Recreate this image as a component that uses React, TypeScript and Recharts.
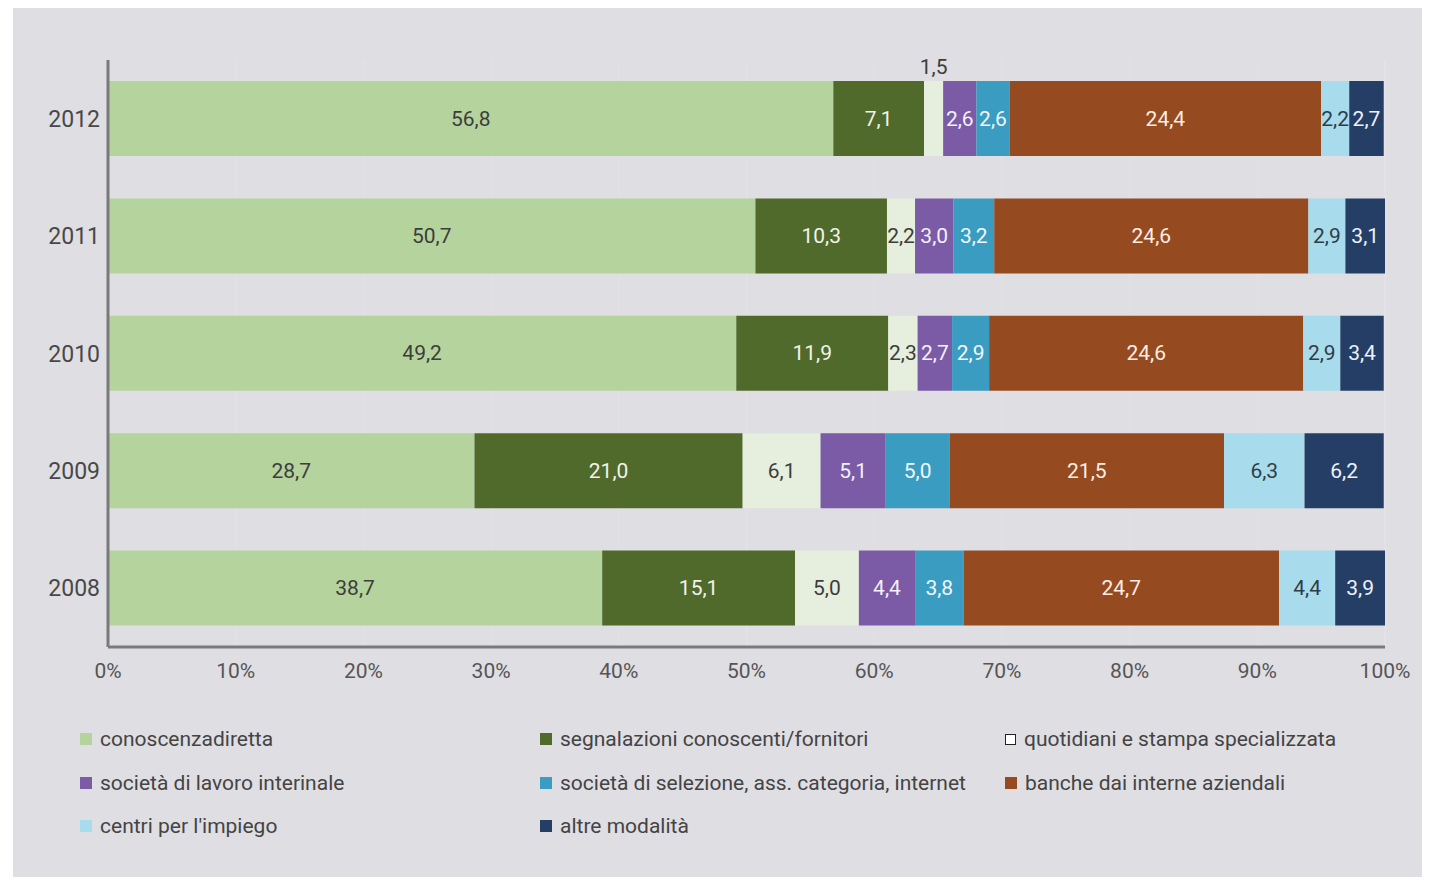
// @ts-nocheck
import React from 'react'
import { BarChart, Bar, XAxis, YAxis, CartesianGrid, LabelList } from 'recharts'

const years = ['2012', '2011', '2010', '2009', '2008']
const conoscenza = [56.8, 50.7, 49.2, 28.7, 38.7]
const segnalazioni = [7.1, 10.3, 11.9, 21.0, 15.1]
const quotidiani = [1.5, 2.2, 2.3, 6.1, 5.0]
const interinale = [2.6, 3.0, 2.7, 5.1, 4.4]
const selezione = [2.6, 3.2, 2.9, 5.0, 3.8]
const banche = [24.4, 24.6, 24.6, 21.5, 24.7]
const centri = [2.2, 2.9, 2.9, 6.3, 4.4]
const altre = [2.7, 3.1, 3.4, 6.2, 3.9]
const xTicks = [0, 10, 20, 30, 40, 50, 60, 70, 80, 90, 100]

const series = [
  { key: 'conoscenza', name: 'conoscenzadiretta', values: conoscenza, color: '#b5d39c', text: '#3d3d3d' },
  { key: 'segnalazioni', name: 'segnalazioni conoscenti/fornitori', values: segnalazioni, color: '#4f6a2a', text: '#f2f2ea' },
  { key: 'quotidiani', name: 'quotidiani e stampa specializzata', values: quotidiani, color: '#e6eedd', text: '#3d3d3d' },
  { key: 'interinale', name: 'società di lavoro interinale', values: interinale, color: '#7b5aa6', text: '#f4f0fa' },
  { key: 'selezione', name: 'società di selezione, ass. categoria, internet', values: selezione, color: '#3a9cc1', text: '#f0f8fc' },
  { key: 'banche', name: 'banche dai interne aziendali', values: banche, color: '#964a1f', text: '#fbeee6' },
  { key: 'centri', name: "centri per l'impiego", values: centri, color: '#a8dcec', text: '#2f3d48' },
  { key: 'altre', name: 'altre modalità', values: altre, color: '#253e66', text: '#eef2f8' },
]

const data = years.map((year, i) => {
  const row: any = { year }
  series.forEach(s => { row[s.key] = s.values[i] })
  return row
})

const font = 'Roboto, "Liberation Sans", sans-serif'
const fmt = (v: number) => v.toFixed(1).replace('.', ',')

// labels too narrow for the segment go above the bar (the 1,5 in 2012)
const makeLabel = (color: string) => (props: any) => {
  const { x, y, width, height, value } = props
  if (value == null) return null
  const above = width < 22
  return (
    <text
      x={x + width / 2}
      y={above ? y - 14 : y + height / 2}
      textAnchor="middle"
      dominantBaseline="central"
      fill={above ? '#3d3d3d' : color}
      fontSize={21}
      fontFamily={font}
    >
      {fmt(value)}
    </text>
  )
}

const legendCols = [80, 540, 1005]
const legendRows = [739, 783, 826]

export default function App() {
  return (
    <div style={{ position: 'relative', width: 1432, height: 885, margin: -8, background: '#ffffff', overflow: 'hidden' }}>
      <div style={{ position: 'absolute', left: 13, top: 8, width: 1409, height: 877, background: '#dfdee3' }} />
      <div style={{ position: 'absolute', left: 0, top: 0 }}>
        <BarChart
          width={1432}
          height={885}
          data={data}
          layout="vertical"
          margin={{ top: 60, right: 47, bottom: 198, left: 8 }}
          barSize={75}
        >
          <CartesianGrid horizontal={false} stroke="#e3e2e6" strokeWidth={1} />
          <XAxis
            type="number"
            domain={[0, 100]}
            ticks={xTicks}
            tickFormatter={(v: number) => `${v}%`}
            axisLine={{ stroke: '#7a7a7c', strokeWidth: 3 }}
            tickLine={false}
            tickMargin={10}
            height={40}
            tick={{ fill: '#555555', fontSize: 21, fontFamily: font }}
          />
          <YAxis
            type="category"
            dataKey="year"
            width={100}
            axisLine={{ stroke: '#7a7a7c', strokeWidth: 3 }}
            tickLine={false}
            tick={{ fill: '#484848', fontSize: 23, fontFamily: font }}
          />
          {series.map(s => (
            <Bar key={s.key} dataKey={s.key} name={s.name} stackId="a" fill={s.color} isAnimationActive={false}>
              <LabelList dataKey={s.key} content={makeLabel(s.text)} />
            </Bar>
          ))}
        </BarChart>
      </div>
      {series.map((s, i) => {
        const left = legendCols[i % 3]
        const top = legendRows[Math.floor(i / 3)]
        const outlined = s.key === 'quotidiani'
        return (
          <div
            key={s.key}
            style={{ position: 'absolute', left, top: top - 13, height: 26, display: 'flex', alignItems: 'center', fontFamily: font, fontSize: 21, color: '#444444', whiteSpace: 'nowrap' }}
          >
            <span
              style={{
                display: 'inline-block',
                width: outlined ? 9 : 12,
                height: outlined ? 9 : 12,
                background: outlined ? '#ffffff' : s.color,
                border: outlined ? '1.5px solid #222' : 'none',
                marginRight: 8,
              }}
            />
            {s.name}
          </div>
        )
      })}
    </div>
  )
}
